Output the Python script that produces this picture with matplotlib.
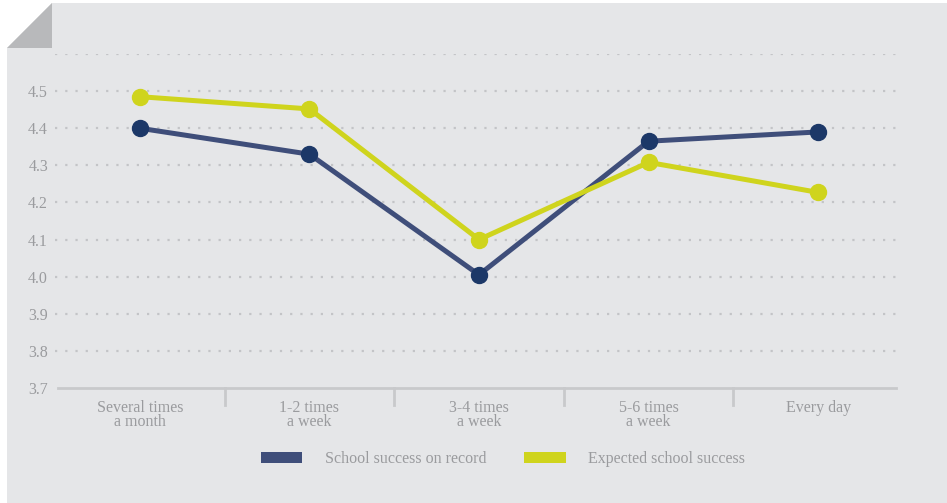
import matplotlib.pyplot as plt
from matplotlib.patches import Polygon, Patch

categories = ['Several times\na month', '1-2 times\na week', '3-4 times\na week', '5-6 times\na week', 'Every day']
record = [4.40, 4.33, 4.005, 4.365, 4.39]
expected = [4.485, 4.452, 4.10, 4.308, 4.227]
yticks = [3.7, 3.8, 3.9, 4.0, 4.1, 4.2, 4.3, 4.4, 4.5]

blue = '#3f4e7a'
blue_dark = '#1c3868'
yellow = '#cfd41d'
grey_text = '#9a9b9e'

plt.rcParams['font.family'] = ['Liberation Serif', 'DejaVu Serif']

W, H = 947, 503
fig = plt.figure(figsize=(W / 100, H / 100), dpi=100, facecolor='white')

# panel background with folded corner
def px(x, y):
    return (x / W, 1 - y / H)

panel = Polygon([px(7, 48), px(52, 3), px(947, 3), px(947, 503), px(7, 503)],
                closed=True, transform=fig.transFigure, facecolor='#e5e6e8', edgecolor='none', zorder=-2)
fold = Polygon([px(7, 48), px(52, 3), px(52, 48)],
               closed=True, transform=fig.transFigure, facecolor='#b8b9bb', edgecolor='none', zorder=-1)
fig.patches.extend([panel, fold])

ax = fig.add_axes([55 / W, 1 - 388 / H, (903 - 55) / W, (388 - 54) / H])
ax.set_facecolor('none')

x = list(range(len(categories)))
ax.set_xlim(-0.5, len(categories) - 0.5)
ax.set_ylim(3.7, 4.6)

for v in yticks[1:] + [4.6]:
    ax.axhline(v, color='#c3c4c7', lw=1.6, ls=(0, (1, 3.6)), zorder=1)

ax.plot(x, record, color=blue, lw=3.6, zorder=3, solid_capstyle='round')
ax.plot(x, record, 'o', color=blue_dark, ms=11.5, zorder=4)
ax.plot(x, expected, color=yellow, lw=3.6, zorder=3, solid_capstyle='round')
ax.plot(x, expected, 'o', color=yellow, ms=11.5, zorder=4)

for s in ['top', 'right', 'left']:
    ax.spines[s].set_visible(False)
ax.spines['bottom'].set_color('#c8c9cb')
ax.spines['bottom'].set_linewidth(2)
ax.spines['bottom'].set_bounds(-0.48, 4.46)

ax.set_yticks(yticks)
ax.set_yticklabels([f'{v:.1f}' for v in yticks], color=grey_text, fontsize=11.5)
ax.tick_params(axis='y', length=0, pad=5)

ax.set_xticks(x)
ax.set_xticklabels(categories, color=grey_text, fontsize=11.5, linespacing=0.8)
ax.tick_params(axis='x', length=0, pad=9)
for b in [0.5, 1.5, 2.5, 3.5]:
    ax.plot([b, b], [3.7, 3.655], color='#c8c9cb', lw=2, clip_on=False)

handles = [Patch(facecolor=blue, edgecolor='none', label='School success on record'),
           Patch(facecolor=yellow, edgecolor='none', label='Expected school success')]
leg = ax.legend(handles=handles, ncol=2, frameon=False, loc='center',
                bbox_to_anchor=(503 / W, 1 - 459 / H), bbox_transform=fig.transFigure,
                fontsize=11.5, handlelength=2.6, handleheight=0.75, handletextpad=1.4,
                columnspacing=2.4)
for t in leg.get_texts():
    t.set_color(grey_text)

fig.savefig('out.png', dpi=100, facecolor='white')
